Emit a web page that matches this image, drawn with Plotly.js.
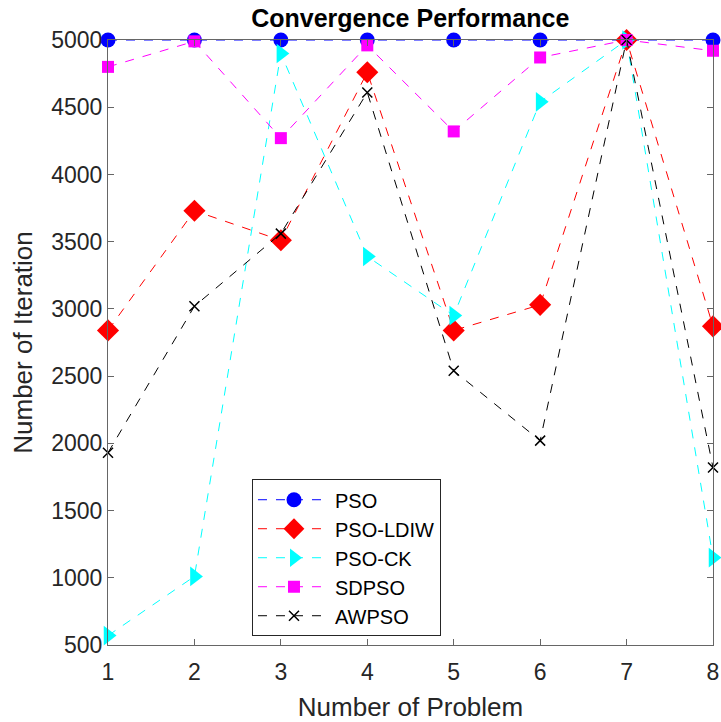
<!DOCTYPE html>
<html>
<head>
<meta charset="utf-8">
<script src="https://cdn.plot.ly/plotly-3.0.1.min.js"></script>
<style>html,body{margin:0;padding:0;background:#fff;}#chart{width:721px;height:722px;}</style>
</head>
<body>
<div id="chart"></div>
<script>
const problems = [1, 2, 3, 4, 5, 6, 7, 8];
const psoVals   = [5000, 5000, 5000, 5000, 5000, 5000, 5000, 5000];
const ldiwVals  = [2840, 3730, 3510, 4760, 2840, 3030, 5000, 2870];
const ckVals    = [570, 1010, 4900, 3390, 2950, 4540, 5000, 1150];
const sdpsoVals = [4800, 4990, 4270, 4960, 4320, 4870, 5000, 4920];
const awpsoVals = [1930, 3020, 3560, 4610, 2540, 2020, 5000, 1820];
const seriesNames = ['PSO', 'PSO-LDIW', 'PSO-CK', 'SDPSO', 'AWPSO'];
const yTicks = [500, 1000, 1500, 2000, 2500, 3000, 3500, 4000, 4500, 5000];

const styles = [
  {color: '#0000ff', symbol: 'circle', size: 15, lw: 0},
  {color: '#ff0000', symbol: 'diamond', size: 17, lw: 0},
  {color: '#00ffff', symbol: 'triangle-right', size: 17, lw: 0},
  {color: '#ff00ff', symbol: 'square', size: 12, lw: 0},
  {color: '#000000', symbol: 'x-thin', size: 10, lw: 1.5}
];
const allVals = [psoVals, ldiwVals, ckVals, sdpsoVals, awpsoVals];

const traces = allVals.map((vals, i) => ({
  x: problems, y: vals, name: seriesNames[i], type: 'scatter', mode: 'lines+markers',
  cliponaxis: false,
  line: {color: styles[i].color, width: 1, dash: 'dash'},
  marker: {color: styles[i].color, symbol: styles[i].symbol, size: styles[i].size,
           line: {color: styles[i].color, width: styles[i].lw}}
}));

const font = 'Liberation Sans, Arial, Helvetica, sans-serif';
const layout = {
  width: 721, height: 722,
  margin: {l: 108, r: 8, t: 40, b: 77},
  paper_bgcolor: '#fff', plot_bgcolor: '#fff',
  font: {family: font, color: '#262626', size: 22},
  title: {text: '<b>Convergence Performance</b>', font: {family: font, size: 25, color: '#000'},
          x: 0.569, xanchor: 'center', y: 0.975, yanchor: 'middle'},
  showlegend: true,
  legend: {x: 0.238, y: 0.274, xanchor: 'left', yanchor: 'top',
           bgcolor: '#fff', bordercolor: '#262626', borderwidth: 1,
           font: {family: font, size: 20, color: '#000'}, itemwidth: 72, tracegroupgap: 0},
  xaxis: {range: [1, 8], tickvals: problems, ticktext: problems.map(String),
          showgrid: false, zeroline: false, showline: true, linecolor: '#666', linewidth: 1,
          mirror: 'ticks', ticks: 'inside', ticklen: 6, tickcolor: '#666',
          ticklabelstandoff: 6,
          tickfont: {family: font, size: 23, color: '#262626'},
          title: {text: 'Number of Problem', font: {family: font, size: 26, color: '#262626'}, standoff: 14}},
  yaxis: {range: [500, 5000], tickvals: yTicks, ticktext: yTicks.map(String),
          showgrid: false, zeroline: false, showline: true, linecolor: '#666', linewidth: 1,
          mirror: 'ticks', ticks: 'inside', ticklen: 6, tickcolor: '#666',
          tickfont: {family: font, size: 23, color: '#262626'},
          title: {text: 'Number of Iteration', font: {family: font, size: 26, color: '#262626'}, standoff: 11}}
};
Plotly.newPlot('chart', traces, layout, {displayModeBar: false, staticPlot: true});
</script>
</body>
</html>
